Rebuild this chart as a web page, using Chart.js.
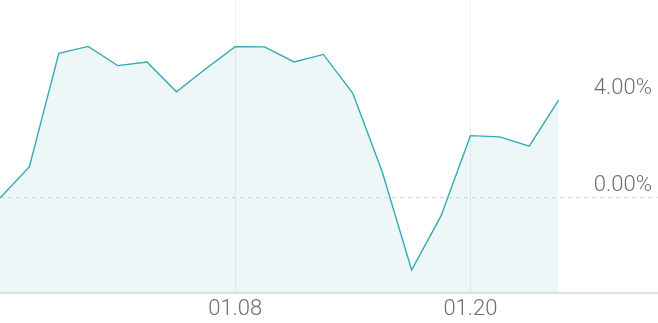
<!DOCTYPE html>
<html>
<head>
<meta charset="utf-8">
<script src="https://cdn.jsdelivr.net/npm/chart.js@4"></script>
<style>
  html, body { margin: 0; padding: 0; background: #fff; }
  #wrap { width: 658px; height: 323px; }
</style>
</head>
<body>
<div id="wrap"><canvas id="rateChart"></canvas></div>
<script>
// trading days and return (%)
const dates = ["12.26", "12.27", "12.30", "12.31", "01.02", "01.03", "01.06", "01.07",
    "01.08", "01.09", "01.10", "01.13", "01.14", "01.15", "01.16", "01.17",
    "01.20", "01.21", "01.22", "01.23"];
const returns = [0.0, 1.29, 5.97, 6.25, 5.46, 5.61, 4.38, 5.33,
    6.24, 6.23, 5.61, 5.92, 4.32, 1.08, -2.97, -0.74,
    2.57, 2.52, 2.14, 4.04];
const xTicks = [8, 16];
const yTicks = [0, 4];

const points = returns.map((v, i) => ({ x: i, y: v }));

const ctx = document.getElementById("rateChart").getContext("2d");

const labelFont = { family: "Roboto", size: 22, weight: 300 };

const rateChart = new Chart(ctx, {
    type: "line",
    data: {
        datasets: [{
            data: points,
            borderColor: "#34a9b6",
            borderWidth: 1.4,
            backgroundColor: "rgba(52, 169, 182, 0.09)",
            fill: "start",
            pointRadius: 0,
            tension: 0
        }]
    },
    options: {
        responsive: true,
        maintainAspectRatio: false,
        animation: false,
        layout: { padding: 0 },
        plugins: {
            legend: { display: false },
            tooltip: { enabled: false }
        },
        scales: {
            x: {
                type: "linear",
                min: 0,
                max: 22.38,
                afterBuildTicks: (axis) => {
                    axis.ticks = xTicks.map(v => ({ value: v }));
                },
                afterFit: (axis) => {
                    axis.height = 30;
                    axis.paddingLeft = 0;
                    axis.paddingRight = 0;
                },
                ticks: {
                    color: "#6e6e6e",
                    font: labelFont,
                    padding: 3,
                    maxRotation: 0,
                    autoSkip: false,
                    callback: (v) => dates[v]
                },
                grid: {
                    color: "#efefef",
                    lineWidth: 1,
                    drawTicks: false
                },
                border: {
                    display: true,
                    color: "#e2e2e2",
                    width: 2
                }
            },
            y: {
                position: "right",
                min: -3.92,
                max: 8.165,
                afterBuildTicks: (axis) => {
                    axis.ticks = yTicks.map(v => ({ value: v }));
                },
                afterFit: (axis) => {
                    axis.width = 0;
                    axis.paddingTop = 0;
                    axis.paddingBottom = 0;
                },
                ticks: {
                    mirror: true,
                    padding: -6,
                    labelOffset: -12,
                    color: "#6e6e6e",
                    font: labelFont,
                    callback: (v) => v.toFixed(2) + "%"
                },
                grid: {
                    drawTicks: false,
                    color: (c) => c.tick && c.tick.value === 0 ? "#dcdcdc" : "rgba(0,0,0,0)",
                    lineWidth: 1
                },
                border: {
                    display: false,
                    dash: [4, 4]
                }
            }
        }
    }
});
</script>
</body>
</html>
